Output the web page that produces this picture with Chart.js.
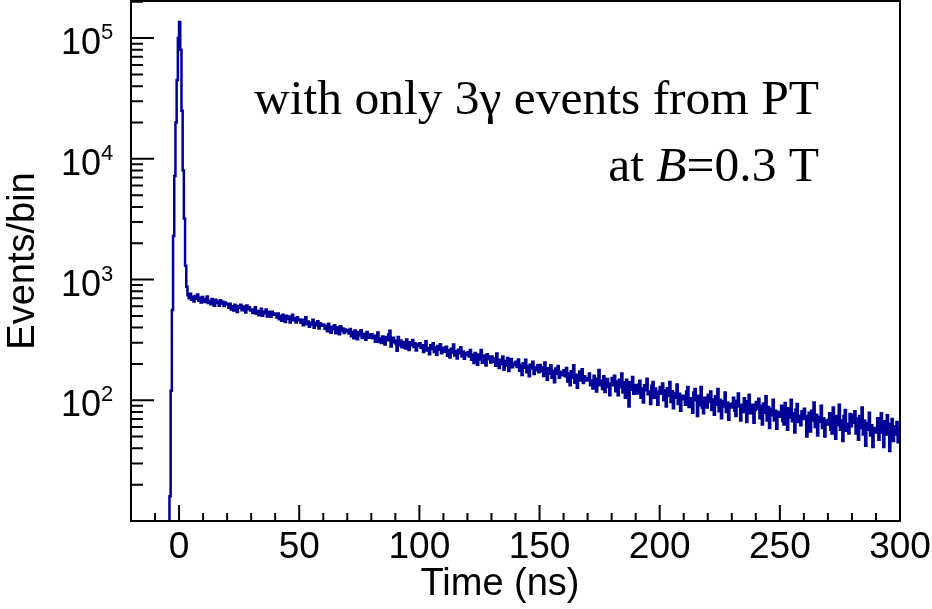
<!DOCTYPE html>
<html>
<head>
<meta charset="utf-8">
<title>Time spectrum, 3 gamma events</title>
<script src="https://cdn.jsdelivr.net/npm/chart.js@4.4.1/dist/chart.umd.min.js"></script>
<style>
  html, body { margin: 0; padding: 0; background: #fff; }
  #wrap { width: 932px; height: 609px; }
</style>
</head>
<body>
<div id="wrap"><canvas id="myChart"></canvas></div>
<script>
// histogram: 0.5 ns bins, first bin starts at -4 ns
const binWidth = 0.5;
const firstEdge = -4.0;

// prompt peak, -4 ns .. 3.5 ns
const peakCounts = [16, 120, 560, 2300, 7200, 20000, 45000, 100000, 136000, 80000, 25000, 8000, 3200, 1300, 870];

// slow component, 3.5 ns .. 300 ns (one line per 10 ns)
const tailCounts = [
    742, 700, 763, 679, 721, 659, 732, 694, 753, 667, 708, 646, 716,
    689, 651, 672, 723, 638, 664, 624, 689, 656, 608, 681, 639, 659, 607, 674, 633, 654, 603, 646, 630,
    620, 585, 631, 565, 602, 554, 618, 586, 538, 603, 583, 618, 558, 597, 570, 533, 609, 570, 590, 555,
    564, 529, 553, 590, 520, 549, 506, 545, 572, 502, 540, 527, 566, 494, 541, 523, 491, 540, 511, 524,
    511, 485, 523, 470, 499, 456, 511, 485, 446, 501, 472, 494, 440, 484, 512, 461, 475, 440, 488, 460,
    466, 439, 464, 419, 452, 488, 427, 449, 407, 439, 422, 465, 398, 439, 419, 451, 393, 434, 414, 425,
    422, 392, 414, 373, 431, 390, 363, 407, 387, 418, 359, 402, 382, 352, 411, 375, 394, 360, 385, 372,
    378, 358, 390, 339, 369, 327, 378, 355, 320, 368, 344, 380, 328, 356, 340, 317, 368, 339, 330, 350,
    353, 327, 342, 306, 337, 364, 304, 327, 298, 337, 319, 290, 335, 314, 350, 376, 279, 302, 330, 312,
    295, 257, 335, 285, 313, 275, 304, 294, 268, 319, 286, 261, 302, 286, 315, 276, 297, 259, 291, 282,
    297, 272, 285, 251, 279, 308, 258, 270, 241, 286, 266, 297, 251, 275, 238, 282, 262, 291, 245, 268,
    272, 252, 278, 234, 260, 226, 267, 247, 290, 235, 255, 222, 262, 245, 275, 231, 254, 221, 246, 237,
    250, 230, 261, 217, 238, 204, 246, 226, 197, 240, 218, 261, 205, 235, 216, 194, 241, 219, 230, 206,
    231, 209, 222, 193, 244, 203, 185, 217, 200, 230, 179, 212, 193, 224, 175, 208, 220, 188, 203, 196,
    209, 189, 218, 176, 197, 162, 203, 186, 217, 171, 192, 158, 198, 183, 209, 165, 187, 177, 195, 171,
    196, 174, 188, 159, 206, 168, 148, 184, 166, 195, 154, 176, 141, 183, 166, 192, 154, 172, 161, 170,
    177, 158, 185, 143, 167, 133, 174, 153, 195, 140, 163, 127, 159, 173, 146, 181, 139, 158, 152, 146,
    152, 167, 133, 146, 125, 160, 140, 118, 151, 178, 133, 145, 124, 158, 117, 140, 150, 129, 110, 138,
    153, 133, 160, 119, 143, 110, 148, 128, 167, 116, 141, 105, 148, 127, 89, 141, 122, 156, 113, 134,
    127, 114, 135, 145, 105, 125, 96, 133, 121, 151, 112, 118, 93, 132, 142, 105, 125, 112, 92, 118,
    129, 113, 138, 100, 121, 89, 126, 109, 142, 97, 119, 86, 115, 105, 135, 93, 113, 82, 109, 102,
    109, 92, 118, 129, 88, 104, 97, 79, 116, 124, 100, 74, 109, 91, 129, 87, 78, 105, 96, 87,
    111, 97, 118, 83, 102, 76, 108, 92, 124, 81, 101, 71, 98, 89, 116, 80, 96, 69, 93, 87,
    94, 105, 82, 74, 99, 114, 89, 68, 92, 80, 104, 86, 66, 98, 111, 78, 86, 92, 65, 83,
    97, 85, 103, 71, 90, 63, 94, 79, 108, 68, 88, 59, 85, 75, 101, 68, 82, 58, 80, 73,
    80, 90, 67, 63, 95, 76, 57, 86, 72, 101, 67, 78, 54, 84, 93, 66, 74, 62, 81, 70,
    85, 74, 50, 61, 79, 55, 82, 68, 96, 60, 76, 51, 73, 66, 90, 59, 71, 50, 68, 63,
    69, 78, 57, 53, 87, 66, 48, 74, 62, 92, 57, 68, 46, 74, 83, 56, 64, 53, 77, 61,
    76, 65, 81, 53, 71, 47, 74, 59, 87, 52, 68, 42, 65, 57, 79, 51, 62, 41, 59, 54,
    58, 71, 47, 54, 78, 62, 41, 67, 52, 75, 58, 38, 64, 70, 46, 61, 52, 66, 45, 57
];

const xLabels = [0, 50, 100, 150, 200, 250, 300];
const yExponents = [2, 3, 4, 5];

// step points at the left edge of every bin, plus the closing right edge
const counts = peakCounts.concat(tailCounts);
const points = [{x: firstEdge, y: 1}];
counts.forEach((c, i) => points.push({x: firstEdge + i * binWidth, y: c}));
points.push({x: firstEdge + counts.length * binWidth, y: counts[counts.length - 1]});

const sans = '"Liberation Sans", Arial, sans-serif';
const serif = '"Liberation Serif", "Times New Roman", serif';

// ROOT style frame, inner ticks, labels and the text box
const rootFrame = {
    id: 'rootFrame',
    afterDraw(chart) {
        const {ctx, chartArea: a, scales: {x, y}} = chart;
        ctx.save();
        ctx.strokeStyle = '#000';
        ctx.lineWidth = 2;
        ctx.strokeRect(a.left, a.top, a.right - a.left, a.bottom - a.top);

        ctx.beginPath();
        for (let t = -20; t <= 300; t += 10) {
            const px = x.getPixelForValue(t);
            ctx.moveTo(px, a.bottom);
            ctx.lineTo(px, a.bottom - (t % 50 === 0 ? 16 : 8));
        }
        for (let k = 1; k <= 5; k++) {
            for (let m = 1; m <= 9; m++) {
                const v = m * Math.pow(10, k);
                if (v > y.max || (k === 1 && m === 1)) continue;
                const py = y.getPixelForValue(v);
                ctx.moveTo(a.left, py);
                ctx.lineTo(a.left + (m === 1 ? 23 : 12), py);
            }
        }
        ctx.stroke();

        ctx.fillStyle = '#000';
        ctx.textBaseline = 'alphabetic';
        ctx.font = '37px ' + sans;
        ctx.textAlign = 'center';
        xLabels.forEach(t => ctx.fillText(String(t), x.getPixelForValue(t), 558));

        yExponents.forEach(e => {
            const py = y.getPixelForValue(Math.pow(10, e));
            ctx.font = '36px ' + sans;
            ctx.textAlign = 'right';
            ctx.fillText('10', 101, py + 16);
            ctx.font = '22px ' + sans;
            ctx.textAlign = 'left';
            ctx.fillText(String(e), 101, py + 1);
        });

        ctx.font = '38px ' + sans;
        ctx.textAlign = 'center';
        ctx.fillText('Time (ns)', 500, 595);
        ctx.save();
        ctx.translate(24, (a.top + a.bottom) / 2);
        ctx.rotate(-Math.PI / 2);
        ctx.textBaseline = 'middle';
        ctx.fillText('Events/bin', 0, 0);
        ctx.restore();

        const right = 819;
        const size = '49.5px ';
        ctx.font = size + serif;
        ctx.textAlign = 'right';
        ctx.fillText('with only 3\u03b3 events from PT', right, 114);
        // second line: "at B=0.3 T" with italic B
        const parts = [['at ', ''], ['B', 'italic '], ['=0.3 T', '']];
        let w = 0;
        parts.forEach(p => { ctx.font = p[1] + size + serif; w += ctx.measureText(p[0]).width; });
        let cx = right - w;
        ctx.textAlign = 'left';
        parts.forEach(p => {
            ctx.font = p[1] + size + serif;
            ctx.fillText(p[0], cx, 181);
            cx += ctx.measureText(p[0]).width;
        });
        ctx.restore();
    }
};

new Chart(document.getElementById('myChart'), {
    type: 'line',
    data: {
        datasets: [{
            data: points,
            borderColor: '#000099',
            borderWidth: 2.5,
            pointRadius: 0,
            stepped: 'before',
            fill: false
        }]
    },
    options: {
        responsive: true,
        maintainAspectRatio: false,
        animation: false,
        layout: {
            padding: {left: 131, right: 32, top: 1, bottom: 88}
        },
        plugins: {
            legend: {display: false},
            tooltip: {enabled: false}
        },
        scales: {
            x: {
                type: 'linear',
                display: false,
                min: -20,
                max: 300
            },
            y: {
                type: 'logarithmic',
                display: false,
                min: 10,
                max: 203000
            }
        }
    },
    plugins: [rootFrame]
});
</script>
</body>
</html>
